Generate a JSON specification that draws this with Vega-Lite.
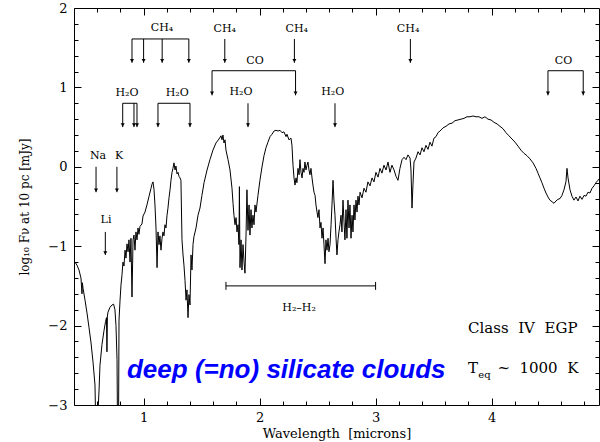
{
  "$schema": "https://vega.github.io/schema/vega-lite/v6.json",
  "width": 525,
  "height": 397,
  "autosize": {"type": "none"},
  "padding": {"left": 74, "top": 8, "right": 1, "bottom": 37},
  "background": "white",
  "config": {"view": {"stroke": "black", "strokeWidth": 1}},
  "datasets": {
    "spec": [
      {"w":0.409,"f":-1.20},{"w":0.426,"f":-1.24},{"w":0.443,"f":-1.30},{"w":0.460,"f":-1.40},{"w":0.469,"f":-1.60},{"w":0.472,"f":-1.46},{"w":0.478,"f":-1.53},{"w":0.495,"f":-1.68},{"w":0.512,"f":-1.84},{"w":0.529,"f":-2.02},{"w":0.547,"f":-2.22},{"w":0.564,"f":-2.46},{"w":0.581,"f":-2.75},{"w":0.588,"f":-3.3},{"w":0.600,"f":-3.3},{"w":0.616,"f":-2.81},{"w":0.624,"f":-2.50},{"w":0.641,"f":-2.24},{"w":0.659,"f":-2.06},{"w":0.672,"f":-1.95},{"w":0.680,"f":-1.90},{"w":0.684,"f":-2.33},{"w":0.688,"f":-1.88},{"w":0.693,"f":-1.83},{"w":0.710,"f":-1.77},{"w":0.728,"f":-1.74},{"w":0.741,"f":-1.73},{"w":0.753,"f":-1.80},{"w":0.762,"f":-2.0},{"w":0.771,"f":-2.43},{"w":0.775,"f":-3.3},{"w":0.784,"f":-3.3},{"w":0.788,"f":-1.93},{"w":0.797,"f":-1.68},{"w":0.805,"f":-1.49},
      {"w":0.814,"f":-1.36},{"w":0.822,"f":-1.20},{"w":0.831,"f":-1.25},{"w":0.840,"f":-1.05},{"w":0.848,"f":-1.15},{"w":0.857,"f":-0.97},{"w":0.866,"f":-1.07},{"w":0.874,"f":-0.92},{"w":0.883,"f":-1.20},{"w":0.891,"f":-0.90},{"w":0.900,"f":-1.64},{"w":0.909,"f":-0.92},{"w":0.917,"f":-0.86},{"w":0.926,"f":-1.05},{"w":0.934,"f":-0.82},{"w":0.943,"f":-0.92},{"w":0.952,"f":-0.77},{"w":0.960,"f":-0.85},{"w":0.969,"f":-0.75},{"w":0.986,"f":-0.72},{"w":0.995,"f":-0.62},{"w":1.012,"f":-0.57},{"w":1.029,"f":-0.48},{"w":1.047,"f":-0.37},{"w":1.064,"f":-0.27},{"w":1.072,"f":-0.22},{"w":1.081,"f":-0.19},{"w":1.090,"f":-0.29},{"w":1.098,"f":-0.48},{"w":1.107,"f":-0.77},{"w":1.116,"f":-1.27},{"w":1.124,"f":-0.82},{"w":1.133,"f":-0.98},{"w":1.141,"f":-0.87},{"w":1.150,"f":-1.05},{"w":1.159,"f":-0.90},{"w":1.167,"f":-0.82},{"w":1.176,"f":-0.87},{"w":1.184,"f":-0.73},{"w":1.193,"f":-0.77},{"w":1.202,"f":-0.61},{"w":1.210,"f":-0.52},{"w":1.219,"f":-0.39},{"w":1.228,"f":-0.29},{"w":1.236,"f":-0.17},{"w":1.245,"f":-0.07},{"w":1.253,"f":-0.02},{"w":1.262,"f":0.05},{"w":1.271,"f":-0.04},{"w":1.279,"f":0.01},{"w":1.288,"f":-0.09},{"w":1.297,"f":-0.07},{"w":1.305,"f":-0.12},{"w":1.314,"f":-0.14},{"w":1.322,"f":-0.17},{"w":1.331,"f":-0.92},{"w":1.340,"f":-1.11},{"w":1.348,"f":-1.24},{"w":1.357,"f":-1.43},{"w":1.366,"f":-1.68},{"w":1.374,"f":-1.55},{"w":1.383,"f":-1.90},{"w":1.391,"f":-1.61},{"w":1.400,"f":-1.74},{"w":1.409,"f":-1.11},{"w":1.417,"f":-1.30},{"w":1.426,"f":-0.98},{"w":1.434,"f":-0.88},{"w":1.452,"f":-0.77},{"w":1.469,"f":-0.61},{"w":1.486,"f":-0.52},{"w":1.503,"f":-0.36},{"w":1.521,"f":-0.20},{"w":1.547,"f":-0.04},{"w":1.572,"f":0.09},{"w":1.598,"f":0.21},{"w":1.624,"f":0.30},{"w":1.650,"f":0.35},{"w":1.667,"f":0.39},{"w":1.676,"f":0.34},{"w":1.684,"f":0.40},{"w":1.693,"f":0.30},{"w":1.702,"f":0.34},{"w":1.710,"f":0.21},{"w":1.728,"f":0.09},{"w":1.745,"f":-0.04},{"w":1.762,"f":-0.27},{"w":1.771,"f":-0.46},{"w":1.779,"f":-0.61},{"w":1.788,"f":-0.73},{"w":1.797,"f":-0.64},{"w":1.805,"f":-0.82},{"w":1.814,"f":-0.73},{"w":1.822,"f":-0.98},{"w":1.826,"f":-0.25},{"w":1.831,"f":-1.27},{"w":1.840,"f":-0.92},{"w":1.848,"f":-1.30},{"w":1.857,"f":-0.98},{"w":1.866,"f":-1.20},{"w":1.874,"f":-1.34},{"w":1.883,"f":-0.86},{"w":1.891,"f":-0.29},{"w":1.900,"f":-0.80},{"w":1.909,"f":-0.48},{"w":1.917,"f":-0.86},{"w":1.926,"f":-0.54},{"w":1.934,"f":-0.77},{"w":1.943,"f":-0.61},{"w":1.952,"f":-0.73},{"w":1.960,"f":-0.48},{"w":1.969,"f":-0.57},{"w":1.986,"f":-0.36},{"w":2.003,"f":-0.17},{"w":2.021,"f":0.0},{"w":2.038,"f":0.14},{"w":2.055,"f":0.24},{"w":2.072,"f":0.31},{"w":2.090,"f":0.38},{"w":2.107,"f":0.41},{"w":2.124,"f":0.45},{"w":2.141,"f":0.46},{"w":2.159,"f":0.45},{"w":2.176,"f":0.46},{"w":2.193,"f":0.43},{"w":2.210,"f":0.44},{"w":2.228,"f":0.38},{"w":2.236,"f":0.41},{"w":2.253,"f":0.34},{"w":2.271,"f":0.36},{"w":2.279,"f":0.27},{"w":2.288,"f":0.02},{"w":2.297,"f":-0.14},{"w":2.305,"f":-0.23},{"w":2.314,"f":-0.14},{"w":2.322,"f":-0.20},{"w":2.331,"f":-0.02},{"w":2.340,"f":-0.10},{"w":2.348,"f":0.09},{"w":2.357,"f":-0.07},{"w":2.366,"f":-0.14},{"w":2.374,"f":-0.02},{"w":2.383,"f":-0.07},{"w":2.391,"f":0.06},{"w":2.400,"f":-0.04},{"w":2.409,"f":0.02},{"w":2.417,"f":0.06},{"w":2.426,"f":-0.04},{"w":2.434,"f":-0.10},{"w":2.443,"f":-0.02},{"w":2.452,"f":-0.14},{"w":2.460,"f":-0.23},{"w":2.469,"f":-0.32},{"w":2.478,"f":-0.36},{"w":2.486,"f":-0.48},{"w":2.495,"f":-0.57},{"w":2.503,"f":-0.64},{"w":2.512,"f":-0.54},{"w":2.521,"f":-0.77},{"w":2.529,"f":-0.70},{"w":2.538,"f":-0.90},{"w":2.547,"f":-0.77},{"w":2.555,"f":-0.98},{"w":2.564,"f":-1.22},{"w":2.572,"f":-0.92},{"w":2.581,"f":-1.05},{"w":2.590,"f":-0.90},{"w":2.598,"f":-1.07},{"w":2.607,"f":-0.98},{"w":2.616,"f":-0.73},{"w":2.624,"f":-0.48},{"w":2.633,"f":-0.17},{"w":2.641,"f":-0.42},{"w":2.650,"f":-0.61},{"w":2.659,"f":-0.90},{"w":2.667,"f":-1.11},{"w":2.676,"f":-0.92},{"w":2.684,"f":-0.82},{"w":2.693,"f":-0.73},{"w":2.702,"f":-0.61},{"w":2.710,"f":-0.82},{"w":2.719,"f":-0.42},{"w":2.728,"f":-0.70},{"w":2.736,"f":-0.92},{"w":2.745,"f":-0.54},{"w":2.753,"f":-0.90},{"w":2.762,"f":-0.42},{"w":2.771,"f":-0.77},{"w":2.779,"f":-0.48},{"w":2.788,"f":-0.90},{"w":2.797,"f":-0.61},{"w":2.805,"f":-0.82},{"w":2.814,"f":-0.48},{"w":2.822,"f":-0.67},{"w":2.831,"f":-0.42},{"w":2.840,"f":-0.57},{"w":2.848,"f":-0.37},{"w":2.857,"f":-0.48},{"w":2.866,"f":-0.32},{"w":2.883,"f":-0.39},{"w":2.900,"f":-0.27},{"w":2.917,"f":-0.32},{"w":2.934,"f":-0.19},{"w":2.952,"f":-0.24},{"w":2.969,"f":-0.14},{"w":2.986,"f":-0.19},{"w":3.003,"f":-0.07},{"w":3.021,"f":-0.13},{"w":3.038,"f":-0.02},{"w":3.055,"f":-0.08},{"w":3.072,"f":0.02},{"w":3.090,"f":-0.04},{"w":3.107,"f":0.06},{"w":3.124,"f":-0.07},{"w":3.141,"f":0.02},{"w":3.159,"f":-0.04},{"w":3.176,"f":-0.12},{"w":3.193,"f":-0.17},{"w":3.210,"f":-0.02},{"w":3.228,"f":0.09},{"w":3.245,"f":0.12},{"w":3.262,"f":0.09},{"w":3.279,"f":0.15},{"w":3.297,"f":0.11},{"w":3.305,"f":-0.04},{"w":3.314,"f":-0.52},{"w":3.322,"f":-0.23},{"w":3.331,"f":0.06},{"w":3.348,"f":0.11},{"w":3.366,"f":0.19},{"w":3.383,"f":0.15},{"w":3.400,"f":0.24},{"w":3.417,"f":0.19},{"w":3.434,"f":0.27},{"w":3.452,"f":0.22},{"w":3.469,"f":0.31},{"w":3.486,"f":0.26},{"w":3.503,"f":0.36},{"w":3.521,"f":0.38},{"w":3.538,"f":0.43},{"w":3.555,"f":0.45},{"w":3.581,"f":0.49},{"w":3.607,"f":0.51},{"w":3.633,"f":0.54},{"w":3.659,"f":0.55},{"w":3.684,"f":0.58},{"w":3.710,"f":0.59},{"w":3.736,"f":0.60},{"w":3.762,"f":0.61},{"w":3.788,"f":0.63},{"w":3.814,"f":0.63},{"w":3.840,"f":0.64},{"w":3.866,"f":0.63},{"w":3.891,"f":0.63},{"w":3.917,"f":0.61},{"w":3.943,"f":0.63},{"w":3.969,"f":0.60},{"w":3.995,"f":0.59},{"w":4.021,"f":0.56},{"w":4.047,"f":0.54},{"w":4.072,"f":0.51},{"w":4.098,"f":0.48},{"w":4.124,"f":0.43},{"w":4.150,"f":0.39},{"w":4.176,"f":0.35},{"w":4.202,"f":0.31},{"w":4.228,"f":0.26},{"w":4.253,"f":0.21},{"w":4.279,"f":0.17},{"w":4.305,"f":0.14},{"w":4.331,"f":0.10},{"w":4.357,"f":0.05},{"w":4.383,"f":-0.02},{"w":4.400,"f":-0.08},{"w":4.417,"f":-0.14},{"w":4.434,"f":-0.20},{"w":4.452,"f":-0.27},{"w":4.469,"f":-0.33},{"w":4.486,"f":-0.38},{"w":4.503,"f":-0.42},{"w":4.521,"f":-0.44},{"w":4.538,"f":-0.46},{"w":4.555,"f":-0.43},{"w":4.572,"f":-0.41},{"w":4.590,"f":-0.40},{"w":4.607,"f":-0.36},{"w":4.624,"f":-0.29},{"w":4.641,"f":-0.19},{"w":4.650,"f":-0.02},{"w":4.659,"f":-0.14},{"w":4.676,"f":-0.29},{"w":4.693,"f":-0.37},{"w":4.710,"f":-0.42},{"w":4.728,"f":-0.38},{"w":4.745,"f":-0.43},{"w":4.762,"f":-0.37},{"w":4.779,"f":-0.41},{"w":4.797,"f":-0.36},{"w":4.814,"f":-0.37},{"w":4.831,"f":-0.32},{"w":4.848,"f":-0.33},{"w":4.866,"f":-0.27},{"w":4.883,"f":-0.24},{"w":4.900,"f":-0.20},{"w":4.917,"f":-0.17},{"w":4.934,"f":-0.14}
    ],
    "rules": [
      {"x":0.9,"x2":1.39,"y":1.61,"y2":1.61},
      {"x":0.9,"x2":0.9,"y":1.61,"y2":1.31},
      {"x":1.0,"x2":1.0,"y":1.61,"y2":1.31},
      {"x":1.16,"x2":1.16,"y":1.61,"y2":1.31},
      {"x":1.39,"x2":1.39,"y":1.61,"y2":1.31},
      {"x":0.82,"x2":0.943,"y":0.80,"y2":0.80},
      {"x":0.82,"x2":0.82,"y":0.80,"y2":0.50},
      {"x":0.917,"x2":0.917,"y":0.80,"y2":0.50},
      {"x":0.943,"x2":0.943,"y":0.80,"y2":0.50},
      {"x":1.124,"x2":1.40,"y":0.80,"y2":0.80},
      {"x":1.124,"x2":1.124,"y":0.80,"y2":0.50},
      {"x":1.40,"x2":1.40,"y":0.80,"y2":0.50},
      {"x":0.59,"x2":0.59,"y":0.0,"y2":-0.32},
      {"x":0.77,"x2":0.77,"y":0.0,"y2":-0.32},
      {"x":0.67,"x2":0.67,"y":-0.82,"y2":-1.11},
      {"x":1.70,"x2":1.70,"y":1.61,"y2":1.31},
      {"x":2.30,"x2":2.30,"y":1.61,"y2":1.31},
      {"x":1.59,"x2":2.31,"y":1.21,"y2":1.21},
      {"x":1.59,"x2":1.59,"y":1.21,"y2":0.90},
      {"x":2.31,"x2":2.31,"y":1.21,"y2":0.90},
      {"x":1.90,"x2":1.90,"y":0.80,"y2":0.50},
      {"x":2.65,"x2":2.65,"y":0.80,"y2":0.50},
      {"x":3.30,"x2":3.30,"y":1.61,"y2":1.31},
      {"x":4.486,"x2":4.79,"y":1.21,"y2":1.21},
      {"x":4.486,"x2":4.486,"y":1.21,"y2":0.90},
      {"x":4.79,"x2":4.79,"y":1.21,"y2":0.90},
      {"x":1.71,"x2":3.0,"y":-1.50,"y2":-1.50},
      {"x":1.71,"x2":1.71,"y":-1.45,"y2":-1.55},
      {"x":3.0,"x2":3.0,"y":-1.45,"y2":-1.55}
    ],
    "heads": [
      {"x":0.9,"y":1.31},{"x":1.0,"y":1.31},{"x":1.16,"y":1.31},{"x":1.39,"y":1.31},
      {"x":0.82,"y":0.50},{"x":0.917,"y":0.50},{"x":0.943,"y":0.50},{"x":1.124,"y":0.50},{"x":1.40,"y":0.50},
      {"x":0.59,"y":-0.32},{"x":0.77,"y":-0.32},{"x":0.67,"y":-1.11},
      {"x":1.70,"y":1.31},{"x":2.30,"y":1.31},{"x":1.59,"y":0.90},{"x":2.31,"y":0.90},
      {"x":1.90,"y":0.50},{"x":2.65,"y":0.50},{"x":3.30,"y":1.31},{"x":4.486,"y":0.90},{"x":4.79,"y":0.90}
    ],
    "labels": [
      {"x":1.159,"y":1.75,"t":"CH₄"},
      {"x":0.857,"y":0.93,"t":"H₂O"},
      {"x":1.29,"y":0.93,"t":"H₂O"},
      {"x":0.607,"y":0.136,"t":"Na"},
      {"x":0.788,"y":0.136,"t":"K"},
      {"x":0.676,"y":-0.67,"t":"Li"},
      {"x":1.70,"y":1.74,"t":"CH₄"},
      {"x":2.32,"y":1.74,"t":"CH₄"},
      {"x":1.96,"y":1.33,"t":"CO"},
      {"x":1.84,"y":0.94,"t":"H₂O"},
      {"x":2.63,"y":0.94,"t":"H₂O"},
      {"x":3.28,"y":1.74,"t":"CH₄"},
      {"x":4.62,"y":1.33,"t":"CO"},
      {"x":2.34,"y":-1.78,"t":"H₂–H₂"}
    ],
    "big": [
      {"x":3.797,"y":-2.03,"t":"Class\u00a0 IV\u00a0 EGP"},
      {"x":3.797,"y":-2.53,"t":"T"},
      {"x":4.05,"y":-2.53,"t":"~\u00a0 1000\u00a0 K"}
    ],
    "sub": [{"x":3.886,"y":-2.62,"t":"eq"}],
    "blue": [{"x":2.23,"y":-2.66,"t":"deep (=no) silicate clouds"}]
  },
  "resolve": {"axis": {"x": "independent", "y": "independent"}},
  "layer": [
    {
      "data": {"name": "spec"},
      "mark": {"type": "line", "color": "black", "strokeWidth": 1, "clip": true},
      "encoding": {
        "x": {"field": "w", "type": "quantitative", "sort": null,
          "scale": {"domain": [0.4, 4.926], "nice": false, "zero": false},
          "axis": {"orient": "bottom", "values": [1,2,3,4], "offset": -7, "tickSize": 7,
            "tickColor": "black", "domain": false, "grid": false, "labelFlush": false,
            "format": "d",
            "labelFont": "DejaVu Serif", "labelFontSize": 13, "labelColor": "black", "labelPadding": 6,
            "title": "Wavelength\u00a0 [microns]", "titleFont": "DejaVu Serif", "titleFontSize": 13, "titleFontWeight": "normal", "titleColor": "black", "titlePadding": 3}},
        "y": {"field": "f", "type": "quantitative",
          "scale": {"domain": [-3, 2], "nice": false, "zero": false},
          "axis": {"orient": "left", "values": [-3,-2,-1,0,1,2], "offset": -7, "tickSize": 7,
            "tickColor": "black", "domain": false, "grid": false, "labelFlush": false,
            "labelExpr": "datum.value < -0.01 ? '−' + format(-datum.value,'d') : format(datum.value,'d')",
            "labelFont": "DejaVu Serif", "labelFontSize": 13, "labelColor": "black", "labelPadding": 7,
            "title": "log₁₀ Fν at 10 pc [mJy]", "titleFont": "DejaVu Serif", "titleFontSize": 12, "titleFontWeight": "normal", "titleColor": "black", "titlePadding": 16}}
      }
    },
    {
      "data": {"name": "rules"},
      "mark": {"type": "rule", "color": "black", "strokeWidth": 1},
      "encoding": {
        "x": {"field": "x", "type": "quantitative",
          "axis": {"orient": "top", "values": [1,2,3,4], "offset": -7, "tickSize": 7,
            "tickColor": "black", "domain": false, "grid": false, "labels": false, "title": null}},
        "x2": {"field": "x2"},
        "y": {"field": "y", "type": "quantitative",
          "axis": {"orient": "right", "values": [-2,-1,0,1], "offset": -7, "tickSize": 7,
            "tickColor": "black", "domain": false, "grid": false, "labels": false, "title": null}},
        "y2": {"field": "y2"}
      }
    },
    {
      "data": {"name": "heads"},
      "mark": {"type": "point", "shape": "triangle-down", "filled": true, "color": "black", "size": 16, "opacity": 1, "yOffset": -2},
      "encoding": {
        "x": {"field": "x", "type": "quantitative",
          "axis": {"orient": "bottom", "values": [0.6,0.8,1.2,1.4,1.6,1.8,2.2,2.4,2.6,2.8,3.2,3.4,3.6,3.8,4.2,4.4,4.6,4.8], "offset": -4, "tickSize": 4,
            "tickColor": "black", "domain": false, "grid": false, "labels": false, "title": null}},
        "y": {"field": "y", "type": "quantitative",
          "axis": {"orient": "left", "values": [-2.8,-2.6,-2.4,-2.2,-1.8,-1.6,-1.4,-1.2,-0.8,-0.6,-0.4,-0.2,0.2,0.4,0.6,0.8,1.2,1.4,1.6,1.8], "offset": -4, "tickSize": 4,
            "tickColor": "black", "domain": false, "grid": false, "labels": false, "title": null}}
      }
    },
    {
      "data": {"name": "labels"},
      "mark": {"type": "text", "font": "DejaVu Serif", "fontSize": 11, "color": "black", "align": "center", "baseline": "middle"},
      "encoding": {
        "x": {"field": "x", "type": "quantitative",
          "axis": {"orient": "top", "values": [0.6,0.8,1.2,1.4,1.6,1.8,2.2,2.4,2.6,2.8,3.2,3.4,3.6,3.8,4.2,4.4,4.6,4.8], "offset": -4, "tickSize": 4,
            "tickColor": "black", "domain": false, "grid": false, "labels": false, "title": null}},
        "y": {"field": "y", "type": "quantitative",
          "axis": {"orient": "right", "values": [-2.8,-2.6,-2.4,-2.2,-1.8,-1.6,-1.4,-1.2,-0.8,-0.6,-0.4,-0.2,0.2,0.4,0.6,0.8,1.2,1.4,1.6,1.8], "offset": -4, "tickSize": 4,
            "tickColor": "black", "domain": false, "grid": false, "labels": false, "title": null}},
        "text": {"field": "t"}
      }
    },
    {
      "data": {"name": "big"},
      "mark": {"type": "text", "font": "DejaVu Serif", "fontSize": 15, "color": "black", "align": "left", "baseline": "middle"},
      "encoding": {
        "x": {"field": "x", "type": "quantitative", "axis": null},
        "y": {"field": "y", "type": "quantitative", "axis": null},
        "text": {"field": "t"}
      }
    },
    {
      "data": {"name": "sub"},
      "mark": {"type": "text", "font": "DejaVu Serif", "fontSize": 10, "color": "black", "align": "left", "baseline": "middle"},
      "encoding": {
        "x": {"field": "x", "type": "quantitative", "axis": null},
        "y": {"field": "y", "type": "quantitative", "axis": null},
        "text": {"field": "t"}
      }
    },
    {
      "data": {"name": "blue"},
      "mark": {"type": "text", "font": "Liberation Sans", "fontSize": 26, "fontWeight": "bold", "fontStyle": "italic", "color": "#0000ff", "align": "center", "baseline": "alphabetic"},
      "encoding": {
        "x": {"field": "x", "type": "quantitative", "axis": null},
        "y": {"field": "y", "type": "quantitative", "axis": null},
        "text": {"field": "t"}
      }
    }
  ]
}
